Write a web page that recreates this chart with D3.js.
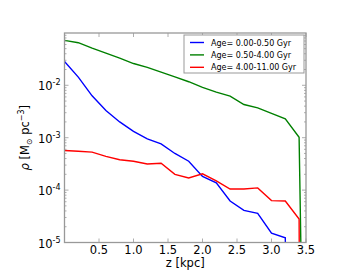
<!DOCTYPE html>
<html lang="en">
<head>
  <meta charset="UTF-8">
  <title>Density profile by age</title>
  <style>
    body { margin: 0; background: #fff; }
    text { font-family: 'DejaVu Sans', sans-serif; fill: #000; }
  </style>
  <script src="https://d3js.org/d3.v7.min.js"></script>
</head>
<body>
<script>
  // vertical distance grid [kpc]
  const zBins = [0, 0.2, 0.4, 0.6, 0.8, 1.0, 1.2, 1.4, 1.6, 1.8, 2.0, 2.2, 2.4, 2.6, 2.8, 3.0, 3.2, 3.4];

  // density [Msun pc^-3] per age bin
  const young = [2.84e-2, 1.43e-2, 6.3e-3, 3.3e-3, 2.0e-3, 1.32e-3, 9.5e-4, 7.6e-4, 5.0e-4,
                 3.55e-4, 1.82e-4, 1.38e-4, 6.2e-5, 4.1e-5, 3.6e-5, 1.5e-5, 1.23e-5];
  const mid   = [7.2e-2, 6.5e-2, 5.1e-2, 4.1e-2, 3.3e-2, 2.6e-2, 2.2e-2, 1.78e-2, 1.45e-2,
                 1.17e-2, 9.1e-3, 7.4e-3, 6.2e-3, 4.3e-3, 3.7e-3, 2.9e-3, 2.3e-3, 1.02e-3];
  const old   = [5.7e-4, 5.5e-4, 5.3e-4, 4.4e-4, 3.8e-4, 3.55e-4, 3.15e-4, 3.25e-4, 2.0e-4,
                 1.7e-4, 2.05e-4, 1.5e-4, 1.05e-4, 1.05e-4, 1.1e-4, 6.3e-5, 6.2e-5, 2.8e-5];

  // where each profile drops to zero
  const cutZ = [3.22, 3.45, 3.41];

  const labels = ["Age= 0.00-0.50 Gyr", "Age= 0.50-4.00 Gyr", "Age= 4.00-11.00 Gyr"];
  const colors = ["#0000ff", "#008000", "#ff0000"];

  const xTicks = [0.5, 1.0, 1.5, 2.0, 2.5, 3.0, 3.5];
  const yTicks = [-5, -4, -3, -2];

  const W = 360, H = 270;
  const m = { left: 64.5, right: 54, top: 33, bottom: 27.5 };

  const svg = d3.select("body").append("svg")
    .attr("width", W).attr("height", H);

  const x = d3.scaleLinear().domain([0, 3.5]).range([m.left, W - m.right]);
  const y = d3.scaleLog().domain([1e-5, 0.0995]).range([H - m.bottom, m.top]);

  svg.append("clipPath").attr("id", "clip")
    .append("rect")
    .attr("x", m.left).attr("y", m.top)
    .attr("width", W - m.right - m.left).attr("height", H - m.bottom - m.top);

  // build series, last point goes below the axis (zero density)
  const series = [young, mid, old].map((vals, i) => {
    const pts = vals.map((v, j) => ({ z: zBins[j], v: v }));
    pts.push({ z: cutZ[i], v: 1e-7 });
    return pts;
  });

  const line = d3.line().x(d => x(d.z)).y(d => y(d.v));

  svg.append("g").attr("clip-path", "url(#clip)")
    .selectAll("path")
    .data(series)
    .enter().append("path")
    .attr("d", line)
    .attr("fill", "none")
    .attr("stroke", (d, i) => colors[i])
    .attr("stroke-width", 1.4);

  // frame
  const frame = "#999";
  svg.append("rect")
    .attr("x", m.left).attr("y", m.top)
    .attr("width", W - m.right - m.left).attr("height", H - m.bottom - m.top)
    .attr("fill", "none").attr("stroke", frame).attr("stroke-width", 1.3);

  const ticks = svg.append("g").attr("stroke", frame).attr("stroke-width", 0.8);

  // x ticks, inward on bottom and top
  xTicks.forEach(t => {
    ticks.append("line").attr("x1", x(t)).attr("x2", x(t))
      .attr("y1", H - m.bottom).attr("y2", H - m.bottom - 4);
    ticks.append("line").attr("x1", x(t)).attr("x2", x(t))
      .attr("y1", m.top).attr("y2", m.top + 4);
    svg.append("text").attr("x", x(t)).attr("y", H - m.bottom + 11.5)
      .attr("text-anchor", "middle").style("font-size", "11.5px")
      .text(t.toFixed(1));
  });

  // y ticks, major and minor, inward on left and right
  for (let e = -5; e <= -2; e++) {
    for (let k = 1; k <= 9; k++) {
      const v = k * Math.pow(10, e);
      if (v > y.domain()[1]) continue;
      const len = k === 1 ? 4 : 2;
      ticks.append("line").attr("x1", m.left).attr("x2", m.left + len)
        .attr("y1", y(v)).attr("y2", y(v));
      ticks.append("line").attr("x1", W - m.right).attr("x2", W - m.right - len)
        .attr("y1", y(v)).attr("y2", y(v));
    }
  }

  yTicks.forEach(e => {
    const t = svg.append("text")
      .attr("x", m.left - 4).attr("y", y(Math.pow(10, e)) + 5)
      .attr("text-anchor", "end").style("font-size", "11.5px");
    t.append("tspan").text("10");
    t.append("tspan").attr("dy", -5).style("font-size", "8px").text(e);
  });

  // axis labels
  svg.append("text")
    .attr("x", (m.left + W - m.right) / 2).attr("y", H - 3)
    .attr("text-anchor", "middle").style("font-size", "11.5px")
    .text("z [kpc]");

  const yl = svg.append("text")
    .attr("transform", `translate(29,${(m.top + H - m.bottom) / 2}) rotate(-90)`)
    .attr("text-anchor", "middle").style("font-size", "11.5px");
  yl.append("tspan").style("font-style", "italic").text("\u03c1");
  yl.append("tspan").text(" [M");
  yl.append("tspan").attr("dy", 3).style("font-size", "8px").text("\u2299");
  yl.append("tspan").attr("dy", -3).text(" pc");
  yl.append("tspan").attr("dy", -5).style("font-size", "8px").text("\u22123");
  yl.append("tspan").attr("dy", 5).text("]");

  // legend
  const lg = svg.append("g").attr("transform", "translate(184,35)");
  lg.append("rect").attr("width", 120).attr("height", 38)
    .attr("fill", "#fff").attr("stroke", frame).attr("stroke-width", 1);
  labels.forEach((s, i) => {
    const yy = 7.5 + i * 12.4;
    lg.append("line").attr("x1", 6).attr("x2", 20).attr("y1", yy).attr("y2", yy)
      .attr("stroke", colors[i]).attr("stroke-width", 1.4);
    lg.append("text").attr("x", 27).attr("y", yy + 3)
      .style("font-size", "8px").text(s);
  });
</script>
</body>
</html>
